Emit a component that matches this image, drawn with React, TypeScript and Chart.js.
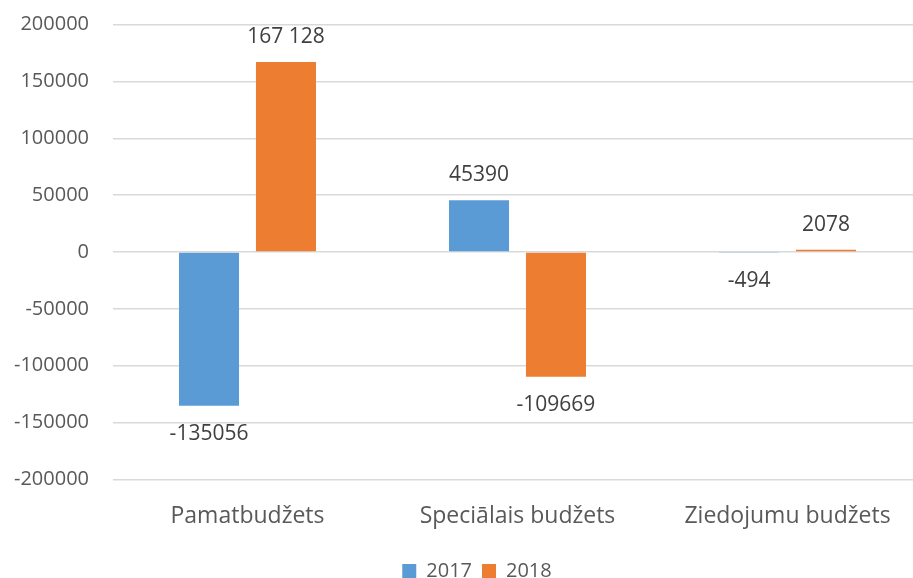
import React, { useEffect, useRef } from "react";
import { Chart, registerables } from "chart.js";

Chart.register(...registerables);

const categories = ["Pamatbudžets", "Speciālais budžets", "Ziedojumu budžets"];
const seriesNames = ["2017", "2018"];
const values2017 = [-135056, 45390, -494];
const values2018 = [167128, -109669, 2078];
const labels2017 = ["-135056", "45390", "-494"];
const labels2018 = ["167 128", "-109669", "2078"];
const yMin = -200000;
const yMax = 200000;
const yStep = 50000;

const FONT = "'Open Sans', 'Noto Sans', sans-serif";

const dataLabelPlugin = {
  id: "dataLabels",
  afterDatasetsDraw(chart: any) {
    const ctx = chart.ctx;
    const all = [labels2017, labels2018];
    ctx.save();
    ctx.font = `21px ${FONT}`;
    ctx.fillStyle = "#404040";
    ctx.textAlign = "center";
    ctx.textBaseline = "middle";
    chart.data.datasets.forEach((ds: any, di: number) => {
      const meta = chart.getDatasetMeta(di);
      meta.data.forEach((el: any, i: number) => {
        const v = ds.data[i];
        const y = v >= 0 ? el.y - 25 : el.y + 28;
        ctx.fillText(all[di][i], el.x, y);
      });
    });
    ctx.restore();
  },
};

const legendShiftPlugin = {
  id: "legendShift",
  afterLayout(chart: any) {
    if (chart.legend) {
      chart.legend.left += 15.75;
      chart.legend.right += 15.75;
    }
  },
};

export default function App() {
  const ref = useRef<HTMLCanvasElement>(null);
  useEffect(() => {
    if (!ref.current) return;
    const chart = new Chart(ref.current, {
      type: "bar",
      data: {
        labels: categories,
        datasets: [
          { label: seriesNames[0], data: values2017, backgroundColor: "#5B9BD5", categoryPercentage: 0.57, barPercentage: 0.78 },
          { label: seriesNames[1], data: values2018, backgroundColor: "#ED7D31", categoryPercentage: 0.57, barPercentage: 0.78 },
        ],
      },
      options: {
        responsive: false,
        animation: false,
        layout: { padding: { left: 0, right: 31.5, top: 13, bottom: -13 } },
        plugins: {
          legend: {
            position: "bottom",
            labels: {
              font: { family: FONT, size: 20 },
              color: "#595959",
              boxWidth: 14,
              boxHeight: 14,
              padding: 10,
            },
          },
          tooltip: { enabled: false },
        },
        scales: {
          x: {
            grid: { display: false },
            border: { display: false },
            ticks: {
              font: { family: FONT, size: 23 },
              color: "#595959",
              maxRotation: 0,
              autoSkip: false,
              padding: 15,
            },
            afterFit: (s: any) => { s.height = 71.5; },
          },
          y: {
            min: yMin,
            max: yMax,
            grid: { color: "#D9D9D9", lineWidth: 1.5, drawTicks: false },
            border: { display: false },
            ticks: {
              stepSize: yStep,
              font: { family: FONT, size: 20 },
              color: "#595959",
              padding: 23.5,
              callback: (v: any) => String(v),
            },
            afterFit: (s: any) => { s.width = 112.5; },
          },
        },
      },
      plugins: [dataLabelPlugin, legendShiftPlugin],
    });
    return () => chart.destroy();
  }, []);
  return (
    <div style={{ position: "fixed", left: 0, top: 0, width: 913, height: 578, overflow: "hidden", background: "#fff" }}>
      <canvas ref={ref} width={954} height={589} style={{ display: "block", position: "absolute", left: 0, top: -11 }} />
    </div>
  );
}
